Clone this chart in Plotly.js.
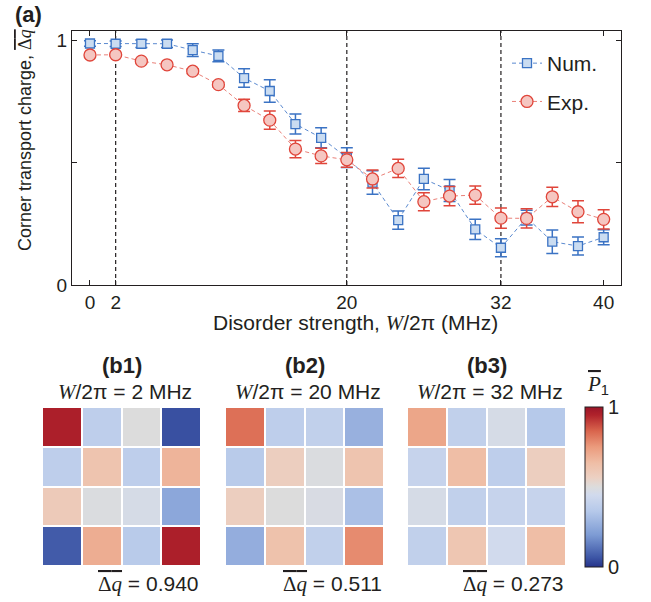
<!DOCTYPE html>
<html>
<head>
<meta charset="utf-8">
<script src="https://cdn.plot.ly/plotly-3.0.1.min.js"></script>
<style>html,body{margin:0;padding:0;background:#fff;}#chart{width:651px;height:602px;}</style>
</head>
<body>
<div id="chart"></div>
<script>
// ---- data ----
const W = [0,2,4,6,8,10,12,14,16,18,20,22,24,26,28,30,32,34,36,38,40];
const numVals = [0.986,0.985,0.985,0.985,0.959,0.935,0.845,0.792,0.657,0.601,0.520,0.418,0.265,0.433,0.386,0.227,0.152,0.275,0.177,0.159,0.195];
const numErr  = [0.011,0.011,0.015,0.015,0.026,0.024,0.038,0.046,0.041,0.041,0.040,0.048,0.037,0.044,0.045,0.041,0.037,0.030,0.048,0.037,0.031];
const expVals = [0.939,0.940,0.914,0.899,0.873,0.818,0.733,0.673,0.555,0.527,0.511,0.433,0.476,0.340,0.363,0.367,0.273,0.272,0.360,0.299,0.268];
const expErr  = [0.005,0.005,0.006,0.008,0.010,0.010,0.025,0.037,0.035,0.031,0.030,0.037,0.037,0.037,0.039,0.037,0.041,0.039,0.039,0.045,0.039];
const markedW = [2, 20, 32];
const xTicks = [0, 2, 20, 32, 40];
const yTicks = [0, 0.5, 1];
const yTickText = ['0', '', '1'];

const panelLabels = ['(b1)', '(b2)', '(b3)'];
const panelW = [2, 20, 32];
const panelDq = ['0.940', '0.511', '0.273'];
const P1_b1 = [
  [0.96, 0.38, 0.50, 0.05],
  [0.38, 0.62, 0.38, 0.68],
  [0.59, 0.49, 0.47, 0.24],
  [0.07, 0.70, 0.36, 0.96]
];
const P1_b2 = [
  [0.83, 0.38, 0.39, 0.27],
  [0.36, 0.57, 0.49, 0.62],
  [0.57, 0.50, 0.48, 0.32],
  [0.26, 0.63, 0.39, 0.78]
];
const P1_b3 = [
  [0.72, 0.39, 0.47, 0.35],
  [0.41, 0.65, 0.38, 0.57],
  [0.47, 0.39, 0.41, 0.41],
  [0.39, 0.61, 0.45, 0.65]
];
const panels = [P1_b1, P1_b2, P1_b3];

// ---- styling ----
const TXT = '#231f20';
const SANS = 'Liberation Sans, Arial, sans-serif';
const SERIF = 'Liberation Serif, Times New Roman, serif';
const blue = '#3b73c4', blueFill = '#cadcf1', blueLine = '#5b8ad0';
const red = '#e0453a', redFill = '#f5c6c1', redLine = '#ea8078';
const cscale = [
  [0.00, '#26338a'], [0.06, '#3d56a6'], [0.20, '#7d9bd4'], [0.35, '#b6c9ea'],
  [0.45, '#d1daed'], [0.50, '#dcdcdc'], [0.56, '#ecd0c2'], [0.65, '#efbea6'],
  [0.75, '#eb9b7d'], [0.85, '#d9654d'], [0.95, '#b0222b'], [1.00, '#9a1528']
];

const pw = 651, ph = 602;
const px = v => v / pw;
const py = v => 1 - v / ph;

const ital = s => '<span style="font-family:' + SERIF + '"><i>' + s + '</i></span>';
const dqBar = '<span style="text-decoration:overline">' + '<span style="font-family:' + SERIF + '">Δ<i>q</i></span>' + '</span>';

const traces = [
  {
    x: W, y: numVals, name: 'Num.', type: 'scatter', mode: 'lines+markers',
    legendgroup: 'n',
    line: {color: blueLine, width: 1, dash: '4px,3px'},
    marker: {symbol: 'square', size: 9, color: blueFill, line: {color: blue, width: 1.3}},
    error_y: {type: 'data', array: numErr, visible: true, color: blue, thickness: 1.5, width: 6},
    xaxis: 'x', yaxis: 'y'
  },
  {
    x: W, y: expVals, name: 'Exp.', type: 'scatter', mode: 'lines+markers',
    legendgroup: 'e',
    line: {color: redLine, width: 1, dash: '4px,3px'},
    marker: {symbol: 'circle', size: 12, color: redFill, line: {color: red, width: 1.3}},
    error_y: {type: 'data', array: expErr, visible: true, color: red, thickness: 1.5, width: 6},
    xaxis: 'x', yaxis: 'y'
  }
];

const hmX = [[42, 201], [225, 384], [407, 566]];
const hmTop = 407, hmBot = 566;
panels.forEach((z, i) => {
  const k = i + 2;
  traces.push({
    type: 'heatmap', z: z, zmin: 0, zmax: 1, colorscale: cscale,
    xgap: 2, ygap: 2, showscale: i === 2, hoverinfo: 'skip',
    xaxis: 'x' + k, yaxis: 'y' + k,
    colorbar: {
      x: px(585), xanchor: 'left', y: py(487), yanchor: 'middle',
      len: (567 - 407) / ph, lenmode: 'fraction', thickness: 18, thicknessmode: 'pixels',
      outlinewidth: 1, outlinecolor: TXT, tickvals: [0, 1], ticktext: ['0', '1'],
      ticks: '', tickfont: {family: SANS, size: 20, color: TXT}, ypad: 0, xpad: 0
    }
  });
});

const shapes = markedW.map(w => ({
  type: 'line', xref: 'x', yref: 'y domain', x0: w, x1: w, y0: 0, y1: 1,
  line: {color: TXT, width: 1.2, dash: '4px,3px'}, layer: 'below'
}));

const ann = (text, x, y, size, extra) => Object.assign({
  text: text, x: px(x), y: py(y), xref: 'paper', yref: 'paper', showarrow: false,
  xanchor: 'center', yanchor: 'middle', font: {family: SANS, size: size, color: TXT}
}, extra || {});

const annotations = [
  ann('<b>(a)</b>', 13, 14, 22, {xanchor: 'left'}),
  ann('Corner transport charge, ' + dqBar, 25, 140, 18, {textangle: -90}),
  ann('Disorder strength, ' + ital('W') + '/2π (MHz)', 355, 323, 21),
  ann('<span style="text-decoration:overline"><span style="font-family:' + SERIF + '"><i>P</i></span></span><sub>1</sub>', 598, 385, 21)
];
panelLabels.forEach((lab, i) => {
  const cx = (hmX[i][0] + hmX[i][1]) / 2;
  annotations.push(ann('<b>' + lab + '</b>', cx, 365, 22));
  annotations.push(ann(ital('W') + '/2π = ' + panelW[i] + ' MHz', cx + 3, 392, 21));
  annotations.push(ann(dqBar + ' = ' + panelDq[i], hmX[i][1], 584, 21, {xanchor: 'right'}));
});

const layout = {
  width: pw, height: ph, margin: {l: 0, r: 0, t: 0, b: 0},
  paper_bgcolor: '#fff', plot_bgcolor: '#fff',
  font: {family: SANS, color: TXT},
  showlegend: true,
  legend: {x: px(507), y: py(43), xanchor: 'left', yanchor: 'top', bgcolor: 'rgba(0,0,0,0)',
    font: {family: SANS, size: 21, color: TXT}, itemwidth: 30, tracegroupgap: 8},
  xaxis: {domain: [px(72), px(621)], range: [-1.4, 41.35], tickvals: xTicks, ticks: 'inside', ticklen: 5,
    tickcolor: TXT, showline: true, linecolor: TXT, linewidth: 1.2, mirror: 'ticks', showgrid: false,
    zeroline: false, tickfont: {family: SANS, size: 19, color: TXT}, anchor: 'y'},
  yaxis: {domain: [py(285), py(31)], range: [0, 1.037], tickvals: yTicks, ticktext: yTickText, ticks: 'inside',
    ticklen: 5, tickcolor: TXT, showline: true, linecolor: TXT, linewidth: 1.2, mirror: 'ticks', showgrid: false,
    zeroline: false, tickfont: {family: SANS, size: 19, color: TXT}, anchor: 'x'},
  shapes: shapes,
  annotations: annotations
};
panels.forEach((z, i) => {
  const k = i + 2;
  layout['xaxis' + k] = {domain: [px(hmX[i][0]), px(hmX[i][1])], visible: false, anchor: 'y' + k, fixedrange: true};
  layout['yaxis' + k] = {domain: [py(hmBot), py(hmTop)], visible: false, autorange: 'reversed', anchor: 'x' + k, fixedrange: true};
});

Plotly.newPlot('chart', traces, layout, {displayModeBar: false, staticPlot: true});
</script>
</body>
</html>
